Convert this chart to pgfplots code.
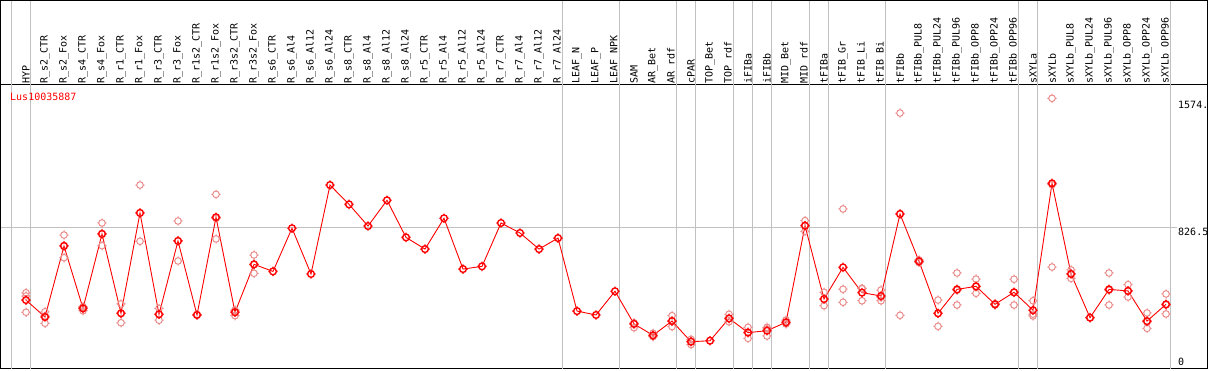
\documentclass[border=0pt]{standalone}
\usepackage{pgfplots}
\pgfplotsset{compat=1.18}
\usepackage{fontspec}
\newfontfamily\labfont{DejaVu Sans Mono}
\definecolor{sepgray}{RGB}{192,192,192}
\definecolor{meanred}{RGB}{255,0,0}
\definecolor{reppink}{RGB}{234,140,140}
\pgfdeclareplotmark{gear}{%
  \pgfpathcircle{\pgfpointorigin}{0.72\pgfplotmarksize}%
  \pgfpathmoveto{\pgfqpoint{0pt}{0.72\pgfplotmarksize}}\pgfpathlineto{\pgfqpoint{0pt}{\pgfplotmarksize}}%
  \pgfpathmoveto{\pgfqpoint{0pt}{-0.72\pgfplotmarksize}}\pgfpathlineto{\pgfqpoint{0pt}{-\pgfplotmarksize}}%
  \pgfpathmoveto{\pgfqpoint{0.72\pgfplotmarksize}{0pt}}\pgfpathlineto{\pgfqpoint{\pgfplotmarksize}{0pt}}%
  \pgfpathmoveto{\pgfqpoint{-0.72\pgfplotmarksize}{0pt}}\pgfpathlineto{\pgfqpoint{-\pgfplotmarksize}{0pt}}%
  \pgfusepathqstroke}
\pgfplotstableread{
x y
1 401
2 301
3 720
4 352
5 791
6 323
7 915
8 317
9 750
10 313
11 890
12 329
13 612
14 570
15 825
16 555
17 1080
18 966
19 838
20 990
21 771
22 702
23 884
24 584
25 600
26 856
27 797
28 702
29 767
30 336
31 313
32 453
33 260
34 193
35 277
36 155
37 161
38 293
39 209
40 220
41 270
42 840
43 407
44 594
45 445
46 425
47 909
48 630
49 323
50 464
51 482
52 376
53 447
54 341
55 1090
56 555
57 297
58 464
59 455
60 277
61 376
}\means
\pgfplotstableread{
x y
1 444
1 425
1 329
2 332
2 307
2 264
3 785
3 724
3 651
4 362
4 356
4 338
5 856
5 795
5 722
6 378
6 324
6 267
7 1080
7 917
7 748
8 352
8 317
8 282
9 868
9 750
9 632
10 316
10 312
11 1025
11 883
11 762
12 342
12 336
12 309
13 667
13 610
13 559
33 267
33 262
33 238
34 205
34 190
34 185
35 309
35 278
35 244
36 169
36 158
36 138
38 317
38 290
38 273
39 240
39 212
39 175
40 240
40 231
40 189
41 283
41 267
41 260
42 870
42 843
42 807
43 447
43 406
43 368
44 939
44 465
44 388
45 470
45 468
45 397
46 460
46 418
46 397
47 1505
47 911
47 311
48 638
48 630
48 622
49 401
49 322
49 246
50 561
50 459
50 372
51 525
51 480
51 441
52 380
52 376
52 372
53 524
53 445
53 372
54 397
54 318
54 307
55 1592
55 1082
55 596
56 579
56 557
56 529
57 297
58 561
58 459
58 372
59 492
59 454
59 419
60 325
60 272
60 234
61 437
61 372
61 319
}\reps
\begin{document}
\begin{tikzpicture}
\begin{axis}[
  width=1206pt, height=283.5pt, scale only axis,
  xmin=-0.3158, xmax=63.158,
  ymin=-3, ymax=1670.6,
  clip=false,
  axis line style={black, line width=1pt},
  ytick=\empty,
  xtick={1,...,61},
  major tick length=0pt,
  xticklabel pos=upper,
  xticklabels={HYP,R\_s2\_CTR,R\_s2\_Fox,R\_s4\_CTR,R\_s4\_Fox,R\_r1\_CTR,R\_r1\_Fox,R\_r3\_CTR,R\_r3\_Fox,R\_r1s2\_CTR,R\_r1s2\_Fox,R\_r3s2\_CTR,R\_r3s2\_Fox,R\_s6\_CTR,R\_s6\_Al4,R\_s6\_Al12,R\_s6\_Al24,R\_s8\_CTR,R\_s8\_Al4,R\_s8\_Al12,R\_s8\_Al24,R\_r5\_CTR,R\_r5\_Al4,R\_r5\_Al12,R\_r5\_Al24,R\_r7\_CTR,R\_r7\_Al4,R\_r7\_Al12,R\_r7\_Al24,LEAF\_N,LEAF\_P,LEAF\_NPK,SAM,AR\_Bet,AR\_rdf,cPAR,TOP\_Bet,TOP\_rdf,iFIBa,iFIBb,MID\_Bet,MID\_rdf,tFIBa,tFIB\_Gr,tFIB\_Li,tFIB\_Bi,tFIBb,tFIBb\_PUL8,tFIBb\_PUL24,tFIBb\_PUL96,tFIBb\_OPP8,tFIBb\_OPP24,tFIBb\_OPP96,sXYLa,sXYLb,sXYLb\_PUL8,sXYLb\_PUL24,sXYLb\_PUL96,sXYLb\_OPP8,sXYLb\_OPP24,sXYLb\_OPP96},
  xticklabel style={rotate=90, anchor=west, inner sep=1.5pt, font=\labfont\fontsize{10}{12}\selectfont, text=black},
]
% group separators
\foreach \s in {0.25,1.25,29.25,32.25,35.25,36.25,38.25,39.25,40.25,42.25,43.25,46.25,53.25,54.25,61.25}{
  \edef\tmp{\noexpand\draw[sepgray, line width=1pt] (axis cs:\s,-3) -- (axis cs:\s,2172);}\tmp
}
\draw[sepgray, line width=1pt] (axis cs:-0.3158,826.5) -- (axis cs:61.6,826.5);
% outer frame above the plot
\draw[black, line width=1pt] (axis cs:-0.3158,1670.6) -- (axis cs:-0.3158,2169.5) -- (axis cs:63.158,2169.5) -- (axis cs:63.158,1670.6);
% replicates
\addplot[only marks, mark=gear, mark size=4.6pt, reppink, line width=1pt] table[x=x,y=y]{\reps};
% means
\addplot[meanred, line width=0.9pt, mark=gear, mark size=4.7pt, mark options={line width=1.4pt}] table[x=x,y=y]{\means};
% labels
\node[anchor=west, inner sep=0pt, text=red, font=\labfont\fontsize{10}{12}\selectfont] at (axis cs:0.158,1600) {Lus10035887};
\node[anchor=north west, inner sep=0pt, font=\labfont\fontsize{10}{12}\selectfont] at (axis cs:61.63,1576) {1574.};
\node[anchor=north west, inner sep=0pt, font=\labfont\fontsize{10}{12}\selectfont] at (axis cs:61.63,828) {826.5};
\node[anchor=north west, inner sep=0pt, font=\labfont\fontsize{10}{12}\selectfont] at (axis cs:61.63,59) {0};
\end{axis}
\pgfresetboundingbox
\path (current axis.south west) ++(-1pt,-1.5pt) rectangle ++(1209pt,370pt);
\end{tikzpicture}
\end{document}
